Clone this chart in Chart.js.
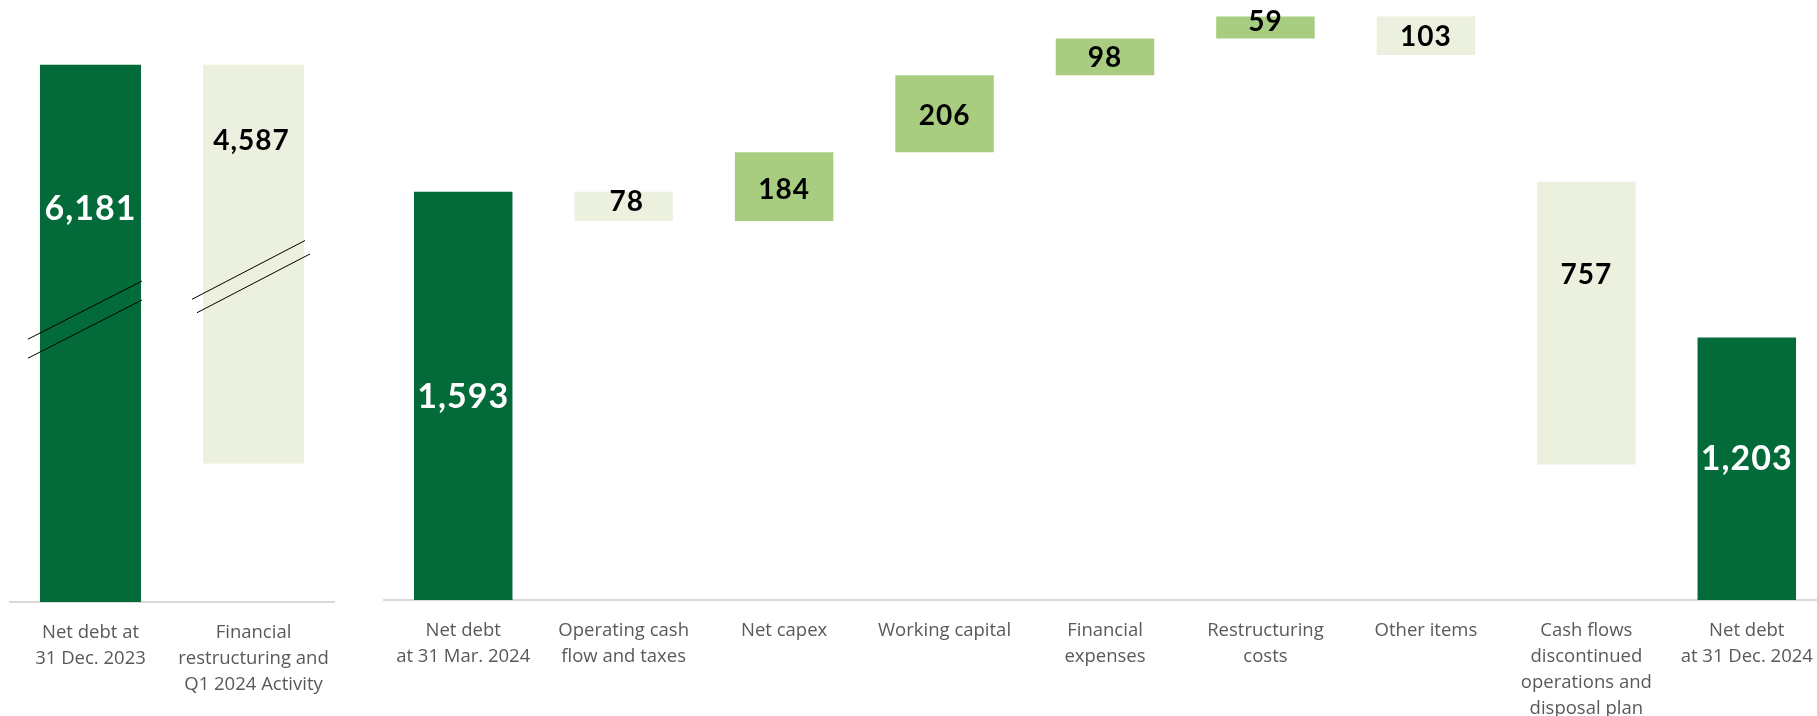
<!DOCTYPE html>
<html>
<head>
<meta charset="utf-8">
<script src="https://cdn.jsdelivr.net/npm/chart.js@4.4.1/dist/chart.umd.min.js"></script>
<style>
  html, body { margin: 0; padding: 0; background: #ffffff; width: 1817px; height: 716px; overflow: hidden; }
  #wrap { position: relative; width: 1817px; height: 716px; overflow: hidden; }
  #leftChart { position: absolute; left: 9px; top: 0; }
  #rightChart { position: absolute; left: 383px; top: 0; }
</style>
</head>
<body>
<div id="wrap">
  <canvas id="leftChart" width="326" height="716"></canvas>
  <canvas id="rightChart" width="1444" height="716"></canvas>
</div>
<script>
// ---------- DATA ----------
const leftCategories = [
  ["Net debt at", "31 Dec. 2023"],
  ["Financial", "restructuring and", "Q1 2024 Activity"]
];
const leftLabelValues = [6181, 4587];
const leftBarStart = [null, 1594];
const leftBarEnd = [6181, 6181];
const leftKinds = ["total", "decrease"];

const rightCategories = [
  ["Net debt", "at 31 Mar. 2024"],
  ["Operating cash", "flow and taxes"],
  "Net capex",
  "Working capital",
  ["Financial", "expenses"],
  ["Restructuring", "costs"],
  "Other items",
  ["Cash flows", "discontinued", "operations and", "disposal plan"],
  ["Net debt", "at 31 Dec. 2024"]
];
const rightLabelValues = [1593, 78, 184, 206, 98, 59, 103, 757, 1203];
const rightBarStart = [null, 1593, 1515, 1699, 1905, 2003, 2062, 863, null];
const rightBarEnd = [1593, 1515, 1699, 1905, 2003, 2062, 1959, 1620, 1203];
const rightKinds = ["total", "decrease", "increase", "increase", "increase", "increase", "decrease", "decrease", "total"];

// ---------- STYLE ----------
const kindColors = { total: "#036A3A", increase: "#A8CD80", decrease: "#EBF0DF" };
const fmt = v => v.toLocaleString("en-US");

function buildData(starts, ends) {
  return ends.map((e, i) => starts[i] === null ? e : [starts[i], e]);
}

const valueLabelPlugin = {
  id: "valueLabels",
  afterDatasetsDraw(chart, args, opts) {
    const meta = chart.getDatasetMeta(0);
    const ctx = chart.ctx;
    const area = chart.chartArea;
    ctx.save();
    meta.data.forEach((bar, i) => {
      const total = opts.kinds[i] === "total";
      const size = total ? opts.bigSize : opts.smallSize;
      ctx.font = "bold " + size + "px Lato";
      ctx.fillStyle = total ? "#ffffff" : "#000000";
      ctx.textAlign = "center";
      ctx.textBaseline = "alphabetic";
      if ("letterSpacing" in ctx) ctx.letterSpacing = (total ? opts.bigSpacing : opts.smallSpacing) + "px";
      const top = Math.max(Math.min(bar.y, bar.base), area.top);
      const bottom = Math.min(Math.max(bar.y, bar.base), area.bottom);
      const cy = (top + bottom) / 2 + opts.offsets[i];
      ctx.fillText(fmt(opts.values[i]), bar.x + (opts.dx ? opts.dx[i] : 0), cy + size * 0.36);
    });
    ctx.restore();
  }
};

const breakPlugin = {
  id: "axisBreaks",
  afterDatasetsDraw(chart, args, opts) {
    if (!opts.breaks) return;
    const meta = chart.getDatasetMeta(0);
    const yScale = chart.scales.y;
    const ctx = chart.ctx;
    ctx.save();
    ctx.strokeStyle = "#000000";
    ctx.lineWidth = 1;
    opts.breaks.forEach(b => {
      const bar = meta.data[b.index];
      const half = bar.width / 2;
      const yc = yScale.getPixelForValue(b.value);
      [0, 1].forEach(k => {
        const g = k === 0 ? 0 : b.gap;
        const x0 = bar.x - half - b.left[k];
        const x1 = bar.x + half + b.right[k];
        ctx.beginPath();
        ctx.moveTo(x0, yc + g + (x0 - bar.x) * b.slope);
        ctx.lineTo(x1, yc + g + (x1 - bar.x) * b.slope);
        ctx.stroke();
      });
    });
    ctx.restore();
  }
};

function xAxis(bottomY) {
  return {
    grid: { display: false },
    border: { display: true, color: "#D9D9D9", width: 2 },
    ticks: {
      color: "#595959",
      font: { family: "'Open Sans'", size: 18.5, lineHeight: 26 / 18.5 },
      padding: 10,
      maxRotation: 0,
      minRotation: 0,
      autoSkip: false
    },
    afterFit(scale) {
      scale.height = 716 - bottomY;
      scale.paddingLeft = 0;
      scale.paddingRight = 0;
    }
  };
}

Chart.defaults.font.family = "'Open Sans'";

new Chart(document.getElementById("leftChart"), {
  type: "bar",
  data: {
    labels: leftCategories,
    datasets: [{
      data: buildData(leftBarStart, leftBarEnd),
      backgroundColor: leftKinds.map(k => kindColors[k]),
      borderWidth: 0,
      barPercentage: 0.62,
      categoryPercentage: 1
    }]
  },
  options: {
    responsive: false,
    animation: false,
    layout: { padding: 0 },
    plugins: {
      legend: { display: false },
      tooltip: { enabled: false },
      valueLabels: {
        values: leftLabelValues, kinds: leftKinds,
        bigSize: 34, smallSize: 28, bigSpacing: 1, smallSpacing: 1,
        offsets: [-126, -124], dx: [0, -2]
      },
      axisBreaks: {
        breaks: [
          { index: 0, value: 3391, gap: 19, slope: -0.51, left: [12, 12], right: [1, 1] },
          { index: 1, value: 3851, gap: 16, slope: -0.52, left: [11, 6], right: [1, 6] }
        ]
      }
    },
    scales: {
      x: xAxis(602),
      y: { display: false, min: 0, max: 6927 }
    }
  },
  plugins: [valueLabelPlugin, breakPlugin]
});

new Chart(document.getElementById("rightChart"), {
  type: "bar",
  data: {
    labels: rightCategories,
    datasets: [{
      data: buildData(rightBarStart, rightBarEnd),
      backgroundColor: rightKinds.map(k => kindColors[k]),
      borderWidth: 0,
      barPercentage: 0.614,
      categoryPercentage: 1
    }]
  },
  options: {
    responsive: false,
    animation: false,
    layout: { padding: 0 },
    plugins: {
      legend: { display: false },
      tooltip: { enabled: false },
      valueLabels: {
        values: rightLabelValues, kinds: rightKinds,
        bigSize: 34, smallSize: 28, bigSpacing: 1, smallSpacing: 1,
        offsets: [0, -5, 2, 1, 0, -7, 0, -49, -11],
        dx: [0, 3, 0, 0, 0, 0, 0, 0, 0]
      }
    },
    scales: {
      x: xAxis(600),
      y: { display: false, min: 500, max: 2106.4 }
    }
  },
  plugins: [valueLabelPlugin]
});
</script>
</body>
</html>
